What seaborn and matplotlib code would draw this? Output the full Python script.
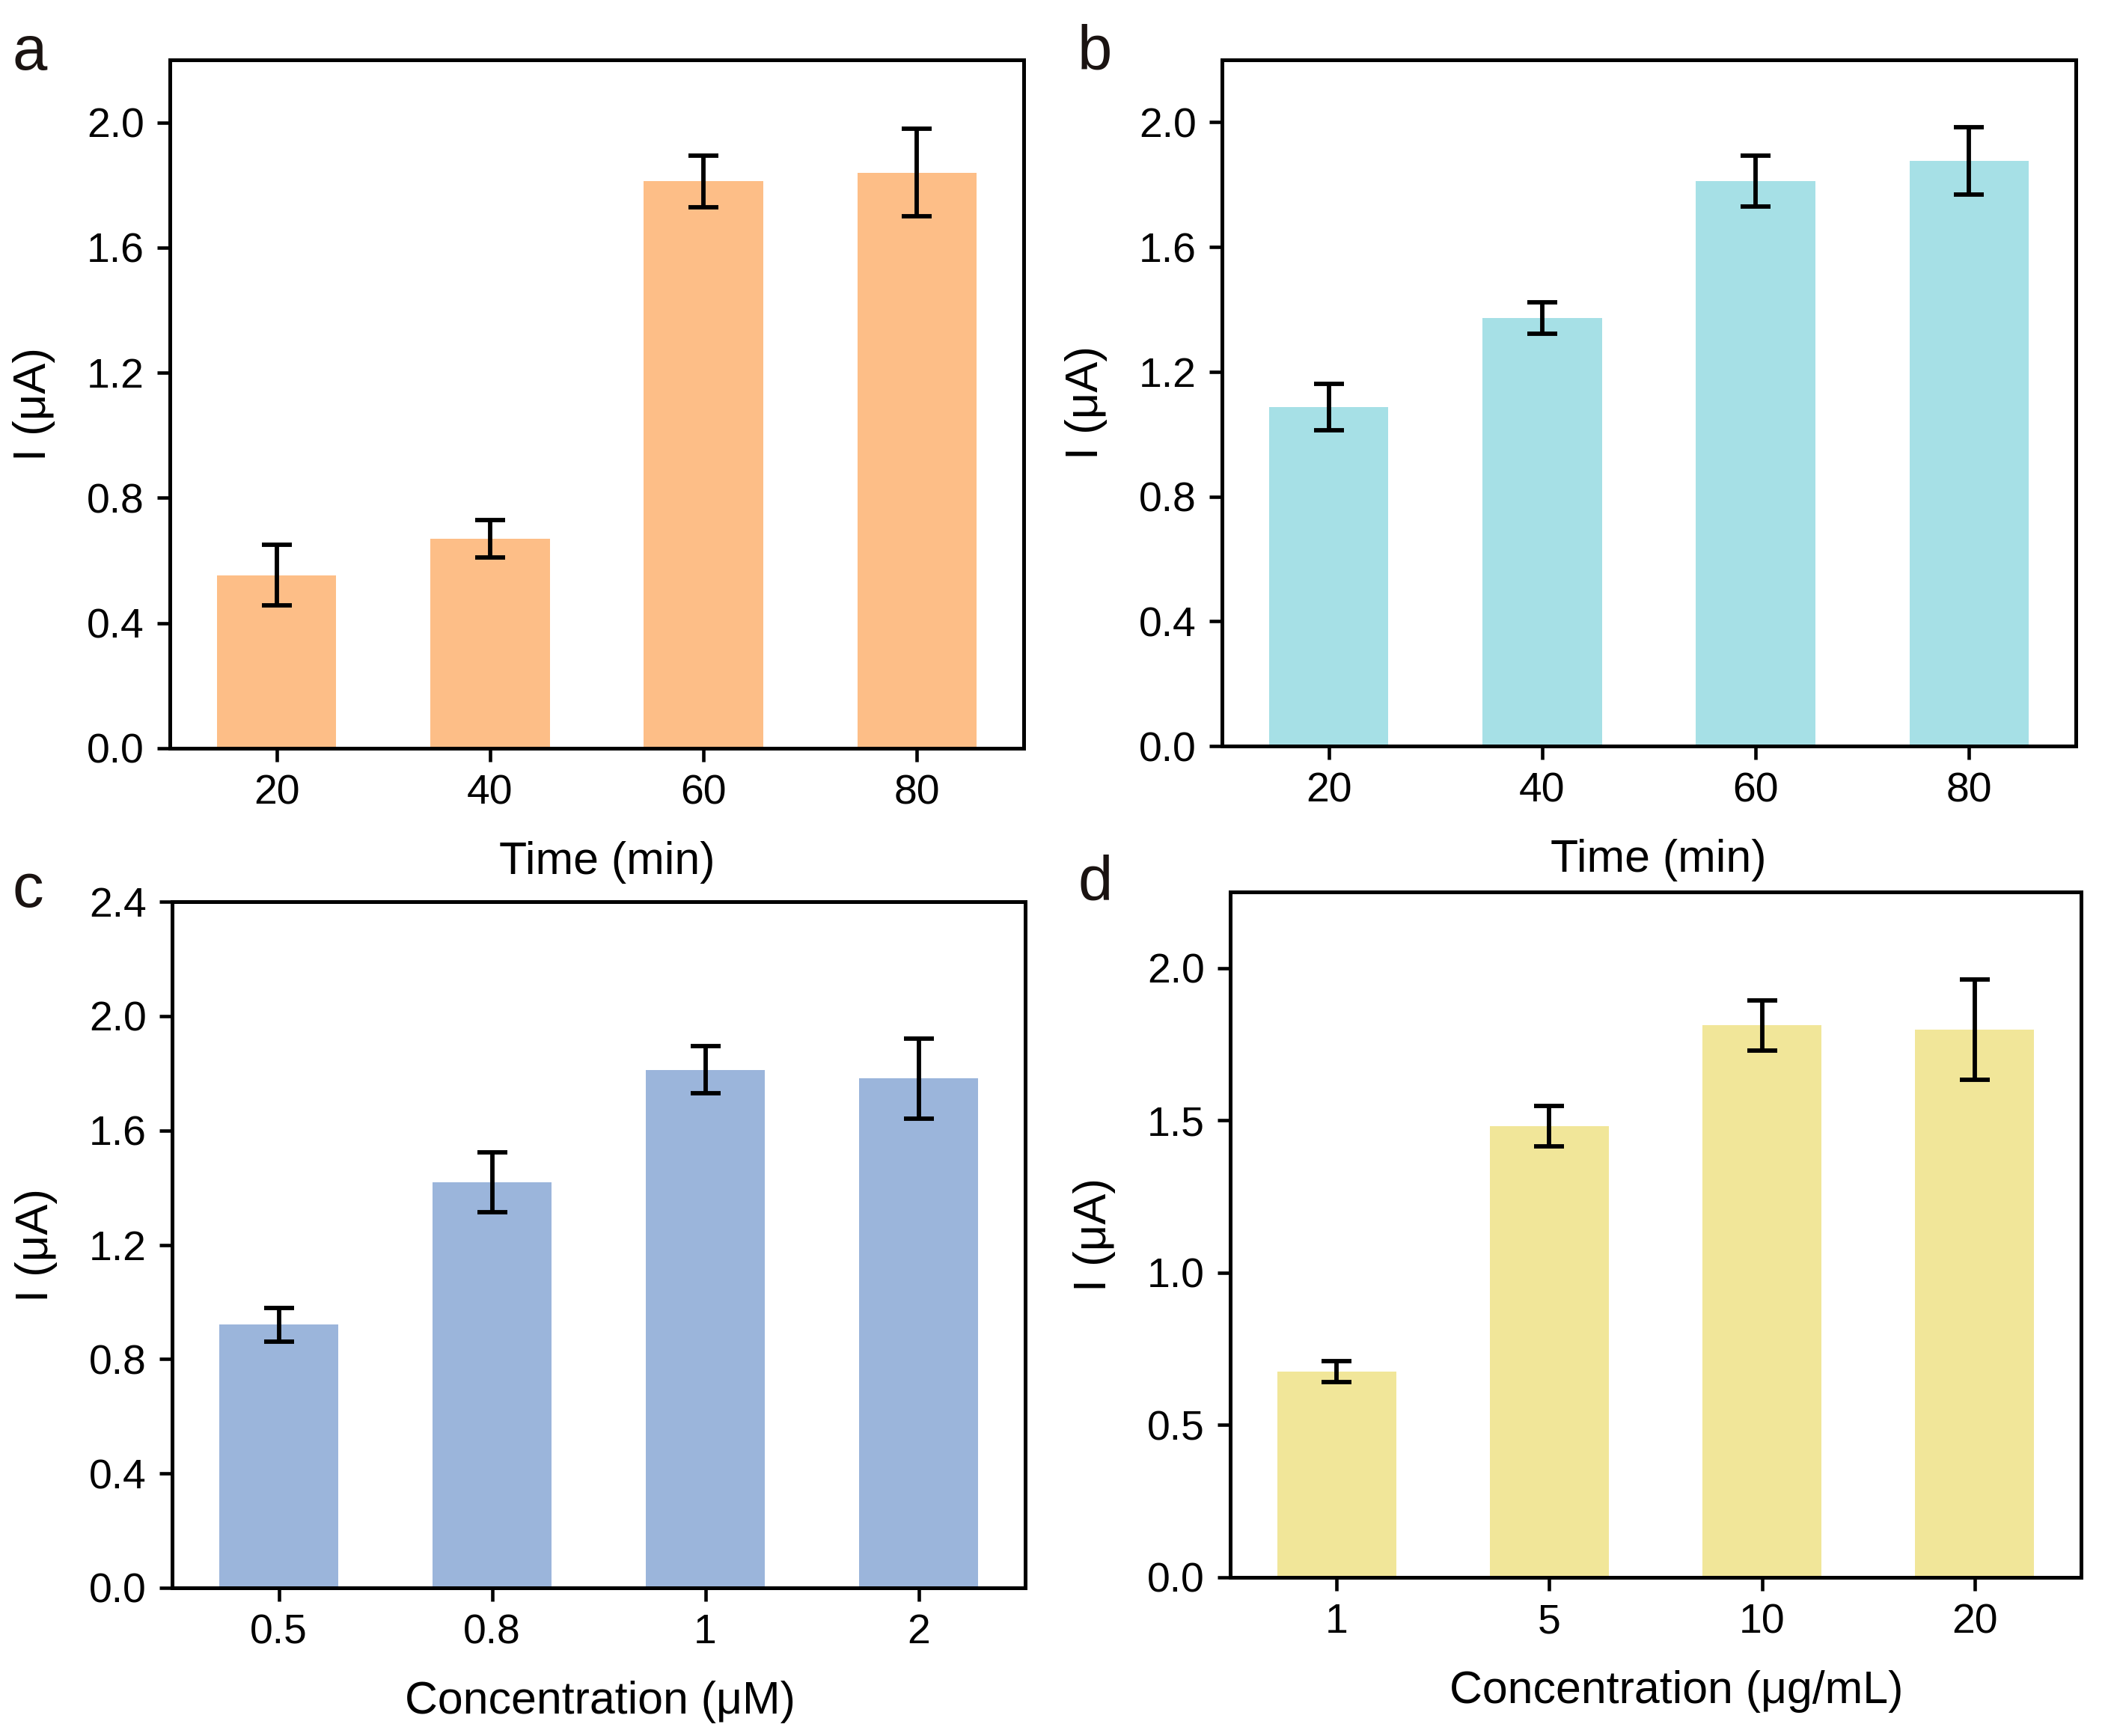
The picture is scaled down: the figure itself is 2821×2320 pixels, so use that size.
import matplotlib
matplotlib.use("Agg")
import matplotlib.pyplot as plt
import seaborn as sns
import numpy as np
import pandas as pd

# ---- data ----
time_labels = ["20", "40", "60", "80"]
a_values = [0.553, 0.670, 1.812, 1.840]
a_errors = [0.097, 0.060, 0.082, 0.140]

b_values = [1.087, 1.372, 1.812, 1.877]
b_errors = [0.074, 0.050, 0.082, 0.108]

conc_um_labels = ["0.5", "0.8", "1", "2"]
c_values = [0.920, 1.418, 1.812, 1.782]
c_errors = [0.060, 0.104, 0.082, 0.140]

conc_ug_labels = ["1", "5", "10", "20"]
d_values = [0.675, 1.482, 1.812, 1.798]
d_errors = [0.034, 0.066, 0.082, 0.164]

sns.set_theme(style="ticks")
plt.rcParams['font.family'] = ['Liberation Sans', 'DejaVu Sans']
plt.rcParams['axes.linewidth'] = 1.2
plt.rcParams['xtick.major.width'] = 1.1
plt.rcParams['ytick.major.width'] = 1.1
plt.rcParams['xtick.major.size'] = 4.2
plt.rcParams['ytick.major.size'] = 4.2
plt.rcParams['xtick.direction'] = 'out'
plt.rcParams['ytick.direction'] = 'out'

W, H = 2821, 2320
fig = plt.figure(figsize=(W / 300, H / 300), dpi=300)

def px_axes(l, t, r, b):
    return fig.add_axes([l / W, 1 - b / H, (r - l) / W, (b - t) / H])

panels = [
    dict(rect=(227, 80, 1368, 1000), cats=time_labels, vals=a_values, errs=a_errors,
         color="#FDBE87", ylim=2.2, yticks=np.arange(0, 2.01, 0.4), fmt="{:.1f}",
         xlabel="Time (min)", letter="a", lpos=(16, 93), lx=0.512),
    dict(rect=(1633, 80, 2774, 997), cats=time_labels, vals=b_values, errs=b_errors,
         color="#A6E0E6", ylim=2.2, yticks=np.arange(0, 2.01, 0.4), fmt="{:.1f}",
         xlabel="Time (min)", letter="b", lpos=(1440, 93), lx=0.511),
    dict(rect=(230, 1205, 1370, 2122), cats=conc_um_labels, vals=c_values, errs=c_errors,
         color="#9BB5DB", ylim=2.4, yticks=np.arange(0, 2.41, 0.4), fmt="{:.1f}",
         xlabel="Concentration (μM)", letter="c", lpos=(16, 1212), lx=0.502),
    dict(rect=(1644, 1192, 2781, 2108), cats=conc_ug_labels, vals=d_values, errs=d_errors,
         color="#F1E699", ylim=2.25, yticks=np.arange(0, 2.01, 0.5), fmt="{:.1f}",
         xlabel="Concentration (μg/mL)", letter="d", lpos=(1440, 1203), lx=0.524),
]

for p in panels:
    ax = px_axes(*p["rect"])
    df = pd.DataFrame({"x": p["cats"], "y": p["vals"]})
    sns.barplot(data=df, x="x", y="y", order=p["cats"], color=p["color"],
                saturation=1, width=0.56, errorbar=None, linewidth=0, ax=ax)
    ax.errorbar(np.arange(len(p["cats"])), p["vals"], yerr=p["errs"], fmt="none",
                ecolor="black", elinewidth=1.4, capsize=4.8, capthick=1.4, zorder=5)
    ax.set_ylim(0, p["ylim"])
    ax.set_xlim(-0.5, len(p["cats"]) - 0.5)
    ax.set_yticks(p["yticks"])
    ax.set_yticklabels([p["fmt"].format(v) for v in p["yticks"]])
    ax.tick_params(axis="both", labelsize=13.3, colors="black", pad=4)
    ax.set_xlabel(p["xlabel"], fontsize=14.6, labelpad=9, color="black")
    ax.xaxis.label.set_x(p["lx"])
    ax.set_ylabel("I (μA)", fontsize=14.8, labelpad=10, color="black")
    for s in ax.spines.values():
        s.set_visible(True)
        s.set_color("black")
        s.set_linewidth(1.2)
    fig.text(p["lpos"][0] / W, 1 - p["lpos"][1] / H, p["letter"], fontsize=20,
             color="#1a1311", ha="left", va="baseline")

fig.savefig("out.png", dpi=300, facecolor="white")
